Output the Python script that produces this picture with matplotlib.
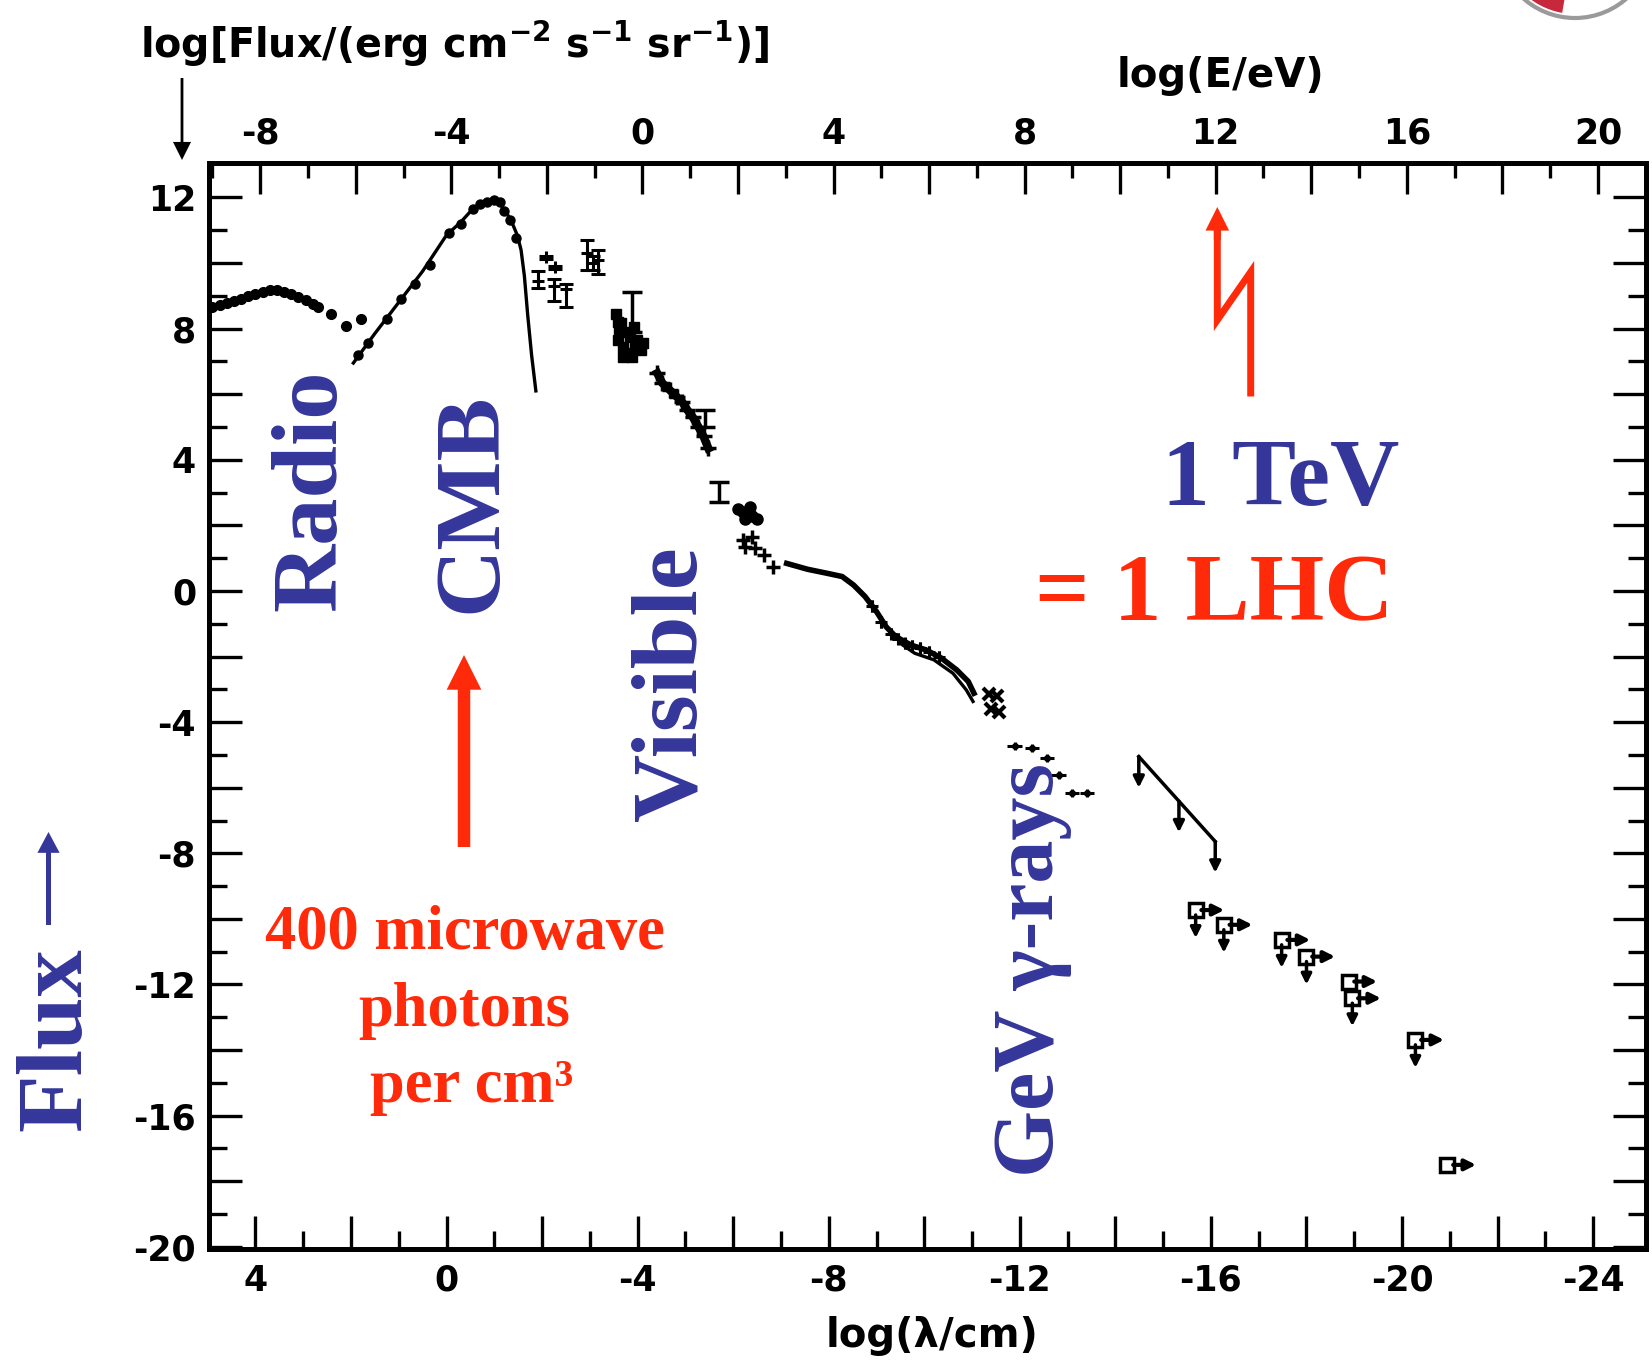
import matplotlib
matplotlib.use("Agg")
import matplotlib.pyplot as plt
from matplotlib.patches import FancyArrowPatch, Circle, Wedge
from matplotlib.lines import Line2D
import numpy as np

# values: x = log(lambda/cm), y = log(flux)
radio_lam = [4.9, 4.75, 4.6, 4.45, 4.3, 4.15, 4.0, 3.85, 3.7, 3.55, 3.4, 3.25, 3.1, 2.95, 2.8, 2.68]
radio_flux = [8.66, 8.72, 8.78, 8.84, 8.9, 8.98, 9.06, 9.13, 9.18, 9.17, 9.12, 9.05, 8.97, 8.87, 8.76, 8.66]
radio_dot_lam = [2.42, 2.1, 1.78]
radio_dot_flux = [8.45, 8.08, 8.3]

cmb_lam = [1.95, 1.5, 1.0, 0.5, 0.0, -0.3, -0.55, -0.75, -0.95, -1.1, -1.25, -1.38, -1.48, -1.56, -1.63, -1.7, -1.78, -1.87]
cmb_flux = [6.95, 7.85, 8.8, 9.75, 10.85, 11.25, 11.65, 11.85, 11.92, 11.85, 11.55, 11.2, 10.85, 10.4, 9.6, 8.4, 7.2, 6.1]
cmb_dot_lam = [1.85, 1.65, 1.25, 0.95, 0.65, 0.35, -0.05, -0.3, -0.55, -0.7, -0.85, -1.0, -1.12, -1.2, -1.32, -1.45]
cmb_dot_flux = [7.2, 7.55, 8.3, 8.9, 9.35, 9.95, 10.9, 11.2, 11.65, 11.8, 11.85, 11.92, 11.85, 11.6, 11.3, 10.75]

ir_lam = [-1.92, -2.09, -2.27, -2.25, -2.50, -2.93, -3.06, -3.17]
ir_flux = [9.45, 10.17, 9.87, 9.3, 9.2, 10.3, 10.0, 10.1]
ir_err_lo = [0.2, 0.05, 0.05, 0.45, 0.55, 0.5, 0.2, 0.45]
ir_err_hi = [0.3, 0.05, 0.05, 0.2, 0.15, 0.4, 0.2, 0.3]

opt_lam = [-3.55, -3.58, -3.62, -3.66, -3.58, -3.70, -3.77, -3.84, -3.92, -3.99, -4.07, -4.11, -3.70, -3.88, -3.75, -3.95]
opt_flux = [8.45, 8.2, 8.0, 8.16, 7.65, 7.45, 7.25, 7.75, 8.06, 7.65, 7.35, 7.55, 7.14, 7.14, 7.9, 7.4]

uv_lam = [-4.41, -4.52, -4.67, -4.82, -4.93, -5.04, -5.15, -5.27, -5.38, -5.48]
uv_flux = [6.64, 6.33, 6.13, 5.92, 5.77, 5.52, 5.31, 5.01, 4.71, 4.35]

# upper limits drawn as "T" bars: position, top and bottom of the stem
lim_lam = [-3.88, -5.42, -5.71]
lim_top = [9.13, 5.52, 3.33]
lim_bot = [7.9, 5.0, 2.72]

soft_lam = [-6.1, -6.2, -6.3, -6.4, -6.5, -6.25, -6.35]
soft_flux = [2.5, 2.4, 2.45, 2.3, 2.2, 2.2, 2.55]
plus_lam = [-6.25, -6.45, -6.4, -6.2, -6.65, -6.84]
plus_flux = [1.35, 1.3, 1.65, 1.55, 1.1, 0.74]

xray_lam = [-7.12, -7.56, -7.96, -8.28, -8.52, -8.76, -9.0, -9.2, -9.4, -9.72, -10.04, -10.36, -10.68, -10.92, -11.04]
xray_flux = [0.84, 0.66, 0.54, 0.44, 0.18, -0.17, -0.63, -1.09, -1.39, -1.65, -1.80, -2.05, -2.41, -2.76, -3.12]
xray2_lam = [-9.5, -9.8, -10.2, -10.6, -10.88, -11.02]
xray2_flux = [-1.6, -1.9, -2.1, -2.51, -3.02, -3.37]
xray_pts_lam = [-8.9, -9.1, -9.3, -9.45, -9.6, -9.75, -9.9, -10.1, -10.3]
xray_pts_flux = [-0.45, -0.95, -1.3, -1.45, -1.6, -1.68, -1.75, -1.85, -2.0]

hard_lam = [-11.36, -11.52, -11.4, -11.56]
hard_flux = [-3.15, -3.2, -3.6, -3.7]

gamma_lam = [-11.89, -12.25, -12.57, -12.81, -13.09, -13.41]
gamma_flux = [-4.73, -4.8, -5.1, -5.61, -6.17, -6.17]

ul_lam = [-14.49, -15.33, -16.09]
ul_flux = [-5.05, -6.41, -7.64]

sq_lam = [-15.68, -16.27, -17.48, -18.00, -18.88, -18.96, -20.28, -20.95]
sq_flux = [-9.73, -10.18, -10.64, -11.15, -11.91, -12.42, -13.69, -17.5]
sq_down = [True, True, True, True, False, True, True, False]

W, H = 1652, 1368
BLUE = "#35369a"
RED = "#ff2a0a"
SERIF = "Liberation Serif"


def fxy(x, y):
    # pixel position measured from the top-left corner -> figure fraction
    return (x / W, 1 - y / H)


plt.rcParams["font.family"] = "DejaVu Sans"
plt.rcParams["font.weight"] = "bold"
plt.rcParams["axes.unicode_minus"] = False
plt.rcParams["mathtext.default"] = "bf"

fig = plt.figure(figsize=(W / 100, H / 100), dpi=100)
ax = fig.add_axes([208.6 / W, 1 - 1248.5 / H, (1645.7 - 208.6) / W, (1248.5 - 163.3) / H])
ax.set_xlim(4.98, -25.1)
ax.set_ylim(-20.05, 13.04)

for s in ax.spines.values():
    s.set_linewidth(3.6)

x_major = np.arange(4, -25, -2)
ax.set_xticks(x_major)
ax.set_xticklabels([f"{v:d}" if v % 4 == 0 else "" for v in x_major])
ax.set_xticks(np.arange(3, -25, -2), minor=True)
y_major = np.arange(-20, 13, 2)
ax.set_yticks(y_major)
ax.set_yticklabels([f"{v:d}" if v % 4 == 0 else "" for v in y_major])
ax.set_yticks(np.arange(-19, 13, 2), minor=True)
ax.tick_params(which="both", direction="in", right=True, top=False, width=2.4, labelsize=25)
ax.tick_params(which="major", length=24)
ax.tick_params(which="minor", length=13)
ax.tick_params(axis="x", pad=11)
ax.tick_params(axis="y", pad=9)

sec = ax.secondary_xaxis("top", functions=(lambda l: -4.1 - l, lambda e: -4.1 - e))
e_major = np.arange(-8, 21, 2)
sec.set_xticks(e_major)
sec.set_xticklabels([f"{v:d}" if v % 4 == 0 else "" for v in e_major])
sec.set_xticks(np.arange(-9, 21, 2), minor=True)
sec.tick_params(which="both", direction="in", width=2.4, labelsize=25, pad=9)
sec.tick_params(which="major", length=22)
sec.tick_params(which="minor", length=11)
sec.spines["top"].set_linewidth(3.6)

# measured spectrum
ax.plot(radio_lam, radio_flux, color="k", lw=3.5, marker="o", ms=7)
ax.plot(radio_dot_lam, radio_dot_flux, "ko", ms=7)
ax.plot(cmb_lam, cmb_flux, color="k", lw=2.4)
ax.plot(cmb_dot_lam, cmb_dot_flux, "ko", ms=6.5)
ax.errorbar(ir_lam, ir_flux, yerr=[ir_err_lo, ir_err_hi], fmt="k+", ms=9, mew=2.2, elinewidth=2.2, capsize=5, capthick=2.2)
ax.plot(opt_lam, opt_flux, "ks", ms=7)
ax.plot(uv_lam, uv_flux, color="k", lw=6, marker="+", ms=12, mew=2.5)
for l, t, b in zip(lim_lam, lim_top, lim_bot):
    ax.errorbar([l], [t], yerr=[[t - b], [0]], fmt="none", ecolor="k", elinewidth=2.5, capsize=7, capthick=2.5)
ax.plot(soft_lam, soft_flux, "ko", ms=8)
ax.plot(plus_lam, plus_flux, "k+", ms=10, mew=2.5)
ax.plot(xray_lam, xray_flux, color="k", lw=4)
ax.plot(xray2_lam, xray2_flux, color="k", lw=2.4)
ax.errorbar(xray_pts_lam, xray_pts_flux, yerr=0.18, fmt="k+", ms=9, mew=2.2, elinewidth=2.2)
ax.plot(hard_lam, hard_flux, "kx", ms=9, mew=3)
ax.errorbar(gamma_lam, gamma_flux, xerr=0.15, yerr=0.12, fmt="ko", ms=4, elinewidth=2.2)

# upper limits at the highest energies
ax.plot(ul_lam, ul_flux, color="k", lw=2.5)
for l, f in zip(ul_lam, ul_flux):
    ax.annotate("", xy=(l, f - 0.95), xytext=(l, f),
                arrowprops=dict(arrowstyle="-|>", lw=2.5, color="k", mutation_scale=16, shrinkA=0, shrinkB=0))
for l, f, down in zip(sq_lam, sq_flux, sq_down):
    ax.annotate("", xy=(l - 0.6, f), xytext=(l - 0.12, f),
                arrowprops=dict(arrowstyle="-|>", lw=3, color="k", mutation_scale=16, shrinkA=0, shrinkB=0))
    if down:
        ax.annotate("", xy=(l, f - 0.85), xytext=(l, f - 0.15),
                    arrowprops=dict(arrowstyle="-|>", lw=2.5, color="k", mutation_scale=15, shrinkA=0, shrinkB=0))
ax.plot(sq_lam, sq_flux, "s", ms=10, mfc="white", mec="k", mew=2.5)

# axis titles
fig.text(*fxy(140, 44), r"log[Flux/(erg cm$^{-2}$ s$^{-1}$ sr$^{-1}$)]", ha="left", va="center", fontsize=28.5)
fig.text(*fxy(1220, 76), "log(E/eV)", ha="center", va="center", fontsize=29)
fig.text(*fxy(932, 1336), "log(λ/cm)", ha="center", va="center", fontsize=29)
fig.add_artist(FancyArrowPatch(fxy(182, 78), fxy(182, 160), transform=fig.transFigure,
                               arrowstyle="simple,head_length=13,head_width=13,tail_width=2",
                               mutation_scale=1, color="k", lw=0, shrinkA=0, shrinkB=0))

# slide annotations
big = dict(family=SERIF, weight="bold", rotation_mode="anchor")
fig.text(*fxy(335, 490), "Radio", rotation=90, ha="center", va="baseline", color=BLUE, fontsize=68, **big)
fig.text(*fxy(495.5, 503), "CMB", rotation=90, ha="center", va="baseline", color=BLUE, fontsize=68, **big)
fig.text(*fxy(696, 684), "Visible", rotation=90, ha="center", va="baseline", color=BLUE, fontsize=68, **big)
fig.text(*fxy(1053, 970), "GeV γ-rays", rotation=90, ha="center", va="baseline", color=BLUE, fontsize=62, **big)
fig.text(*fxy(80.4, 1039), "Flux", rotation=90, ha="center", va="baseline", color=BLUE, fontsize=68, **big)
fig.text(*fxy(1281, 505), "1 TeV", ha="center", va="baseline", color=BLUE, fontsize=69, **big)
fig.text(*fxy(1214, 620), "= 1 LHC", ha="center", va="baseline", color=RED, fontsize=69, **big)
fig.text(*fxy(465, 949), "400 microwave", ha="center", va="baseline", color=RED, fontsize=45, **big)
fig.text(*fxy(464, 1025.6), "photons", ha="center", va="baseline", color=RED, fontsize=45, **big)
fig.text(*fxy(472, 1102), "per cm³", ha="center", va="baseline", color=RED, fontsize=45, **big)

fig.add_artist(FancyArrowPatch(fxy(48.5, 925), fxy(48.5, 832), transform=fig.transFigure,
                               arrowstyle="simple,head_length=15,head_width=16,tail_width=3.6",
                               mutation_scale=1, color=BLUE, lw=0, shrinkA=0, shrinkB=0))
fig.add_artist(FancyArrowPatch(fxy(464, 847), fxy(464, 655), transform=fig.transFigure,
                               arrowstyle="simple,head_length=25,head_width=25,tail_width=9",
                               mutation_scale=1, color=RED, lw=0, shrinkA=0, shrinkB=0))

# zig-zag arrow pointing at 1 TeV
bolt_x, bolt_y = zip(fxy(1250.7, 393), fxy(1250.7, 272), fxy(1217.3, 320), fxy(1217.3, 228))
fig.add_artist(Line2D(bolt_x, bolt_y, transform=fig.transFigure, color=RED, lw=5, solid_joinstyle="miter"))
fig.add_artist(FancyArrowPatch(fxy(1217.3, 240), fxy(1217.3, 207), transform=fig.transFigure,
                               arrowstyle="simple,head_length=17,head_width=17,tail_width=5",
                               mutation_scale=1, color=RED, lw=0, shrinkA=0, shrinkB=0))

# bit of a logo cut off at the top-right corner
lax = fig.add_axes([1480 / W, 1 - 40 / H, 172 / W, 40 / H])
lax.set_xlim(1480, 1652)
lax.set_ylim(40, 0)
lax.axis("off")
lax.add_patch(Circle((1575, -60), 78, facecolor="white", edgecolor="#9a9a9a", lw=3))
lax.add_patch(Wedge((1575, -60), 74, 100, 172, facecolor="#c8283c", edgecolor="none"))

fig.savefig("out.png", dpi=100)
